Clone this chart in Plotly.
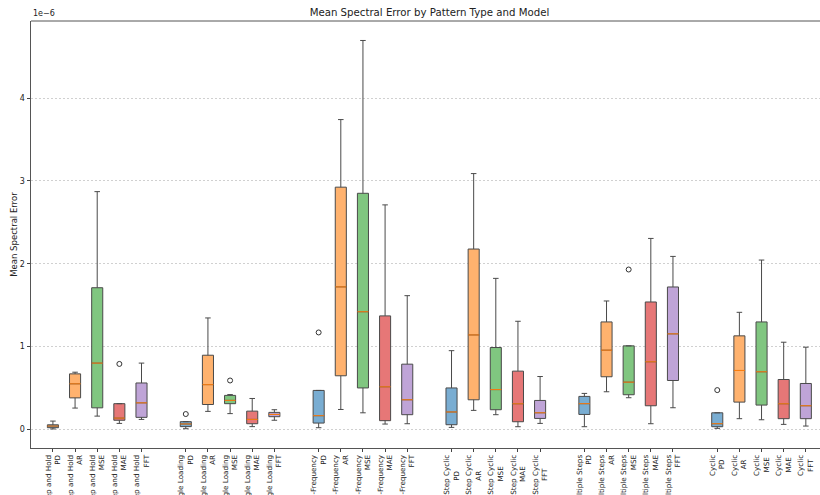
import plotly.graph_objects as go

# Pattern types and models
patterns = ["Step and Hold", "Single Loading", "Multi-Frequency",
            "Step Cyclic", "Multiple Steps", "Cyclic"]
models = ["PD", "AR", "MSE", "MAE", "FFT"]

# Box statistics per model across the six patterns (units of 1e-6)
pd_low = [0.005, 0.008, 0.020, 0.024, 0.032, 0.012]
pd_q1 = [0.020, 0.033, 0.076, 0.056, 0.180, 0.032]
pd_med = [0.040, 0.065, 0.165, 0.210, 0.310, 0.068]
pd_q3 = [0.055, 0.093, 0.470, 0.500, 0.398, 0.200]
pd_high = [0.100, 0.093, 0.470, 0.950, 0.434, 0.200]

ar_low = [0.257, 0.217, 0.240, 0.229, 0.454, 0.129]
ar_q1 = [0.380, 0.300, 0.647, 0.357, 0.635, 0.329]
ar_med = [0.550, 0.540, 1.720, 1.140, 0.956, 0.711]
ar_q3 = [0.670, 0.895, 2.924, 2.177, 1.297, 1.129]
ar_high = [0.690, 1.345, 3.740, 3.088, 1.550, 1.413]

mse_low = [0.160, 0.190, 0.200, 0.177, 0.382, 0.116]
mse_q1 = [0.260, 0.310, 0.500, 0.237, 0.418, 0.293]
mse_med = [0.800, 0.350, 1.420, 0.480, 0.570, 0.695]
mse_q3 = [1.710, 0.410, 2.850, 0.988, 1.008, 1.297]
mse_high = [2.870, 0.420, 4.695, 1.823, 1.008, 2.044]

mae_low = [0.072, 0.033, 0.064, 0.032, 0.068, 0.060]
mae_q1 = [0.110, 0.068, 0.105, 0.092, 0.285, 0.129]
mae_med = [0.136, 0.120, 0.514, 0.309, 0.816, 0.309]
mae_q3 = [0.310, 0.220, 1.370, 0.703, 1.538, 0.602]
mae_high = [0.310, 0.373, 2.710, 1.305, 2.305, 1.052]

fft_low = [0.120, 0.110, 0.068, 0.072, 0.261, 0.040]
fft_q1 = [0.145, 0.153, 0.177, 0.132, 0.590, 0.129]
fft_med = [0.320, 0.180, 0.357, 0.200, 1.153, 0.285]
fft_q3 = [0.560, 0.205, 0.787, 0.349, 1.719, 0.554]
fft_high = [0.800, 0.237, 1.614, 0.638, 2.088, 0.992]

# Outliers: (pattern index, model index, value)
outlier_pattern = [0, 1, 1, 2, 4, 5]
outlier_model = [3, 0, 2, 0, 2, 0]
outlier_value = [0.79, 0.185, 0.59, 1.17, 1.93, 0.474]

# Trailing no-break spaces that centre the model name under short pattern names
label_pad = {
    "Step Cyclic": [7, 7, 5, 5, 6],
    "Cyclic": [2, 2, 1, 1, 2],
}

SCALE = 1e-6
stats = {
    "PD": (pd_low, pd_q1, pd_med, pd_q3, pd_high),
    "AR": (ar_low, ar_q1, ar_med, ar_q3, ar_high),
    "MSE": (mse_low, mse_q1, mse_med, mse_q3, mse_high),
    "MAE": (mae_low, mae_q1, mae_med, mae_q3, mae_high),
    "FFT": (fft_low, fft_q1, fft_med, fft_q3, fft_high),
}
fills = {"PD": "#79add2", "AR": "#ffb26e", "MSE": "#80c680",
         "MAE": "#e67777", "FFT": "#bfa4d7"}

BOX_W = 0.5
GAP = len(models) + 1


def pos(pi, mi):
    return pi * GAP + mi


fig = go.Figure()
for mi, m in enumerate(models):
    low, q1, med, q3, high = stats[m]
    xs = [pos(pi, mi) for pi in range(len(patterns))]
    fig.add_trace(go.Box(
        x=xs,
        q1=[v * SCALE for v in q1],
        median=[v * SCALE for v in med],
        q3=[v * SCALE for v in q3],
        lowerfence=[v * SCALE for v in low],
        upperfence=[v * SCALE for v in high],
        width=BOX_W, whiskerwidth=0.5,
        fillcolor=fills[m],
        line=dict(color="#4a4a4a", width=1),
        boxpoints=False, showlegend=False, hoverinfo="skip",
    ))
    # median lines in orange
    mx, my = [], []
    for pi in range(len(patterns)):
        p = pos(pi, mi)
        mx += [p - BOX_W / 2, p + BOX_W / 2, None]
        my += [med[pi] * SCALE, med[pi] * SCALE, None]
    fig.add_trace(go.Scatter(x=mx, y=my, mode="lines",
                             line=dict(color="#ff7f0e", width=1),
                             showlegend=False, hoverinfo="skip"))

fig.add_trace(go.Scatter(
    x=[pos(p, m) for p, m in zip(outlier_pattern, outlier_model)],
    y=[v * SCALE for v in outlier_value],
    mode="markers",
    marker=dict(symbol="circle-open", size=5, color="#333333",
                line=dict(width=1, color="#333333")),
    showlegend=False, hoverinfo="skip"))

tickvals = [pos(pi, mi) for pi in range(len(patterns)) for mi in range(len(models))]
ticktext = []
for p in patterns:
    pads = label_pad.get(p, [0] * len(models))
    for m, n in zip(models, pads):
        ticktext.append(f"{p}<br>{m}" + "\u00a0" * n)

ytick_vals = [0, 1, 2, 3, 4]

fig.update_layout(
    width=820, height=495,
    margin=dict(l=31, r=0, t=21, b=47),
    paper_bgcolor="white", plot_bgcolor="white",
    font=dict(family="DejaVu Sans", size=8, color="#222222"),
    title=dict(text="Mean Spectral Error by Pattern Type and Model",
               x=0.505, xref="paper", xanchor="center",
               y=1 - 12.5 / 495, yanchor="middle",
               font=dict(size=10.2, color="#222222")),
    boxmode="overlay",
)
fig.update_xaxes(
    range=[-0.99, 34.64], tickmode="array", tickvals=tickvals, ticktext=ticktext,
    tickangle=-90, ticks="outside", ticklen=3, tickcolor="#444444",
    showline=True, linecolor="#555555", linewidth=1, mirror=False,
    showgrid=False, zeroline=False, tickfont=dict(size=7.2), automargin=False,
)
fig.update_yaxes(
    range=[-0.225 * SCALE, 4.93 * SCALE], tickmode="array",
    tickvals=[v * SCALE for v in ytick_vals], ticktext=[str(v) for v in ytick_vals],
    ticks="outside", ticklen=3.5, tickcolor="#444444",
    showline=True, linecolor="#555555", linewidth=1, mirror=False,
    showgrid=True, gridcolor="#d0d0d0", gridwidth=0.8, griddash="2px,2px",
    zeroline=False, tickfont=dict(size=8), automargin=False,
)
# top spine
fig.add_shape(type="line", xref="paper", yref="paper", x0=0, x1=1, y0=1, y1=1,
              line=dict(color="#555555", width=1))
fig.add_annotation(text="1e\u22126", xref="paper", yref="paper", x=0, y=1,
                   xanchor="left", yanchor="bottom", showarrow=False,
                   font=dict(size=8, color="#222222"), yshift=1)
fig.add_annotation(text="Mean Spectral Error", xref="paper", yref="paper",
                   x=-0.0225, y=0.5, xanchor="center", yanchor="middle",
                   textangle=-90, showarrow=False,
                   font=dict(size=8.5, color="#222222"))

fig.write_html("out.html")
